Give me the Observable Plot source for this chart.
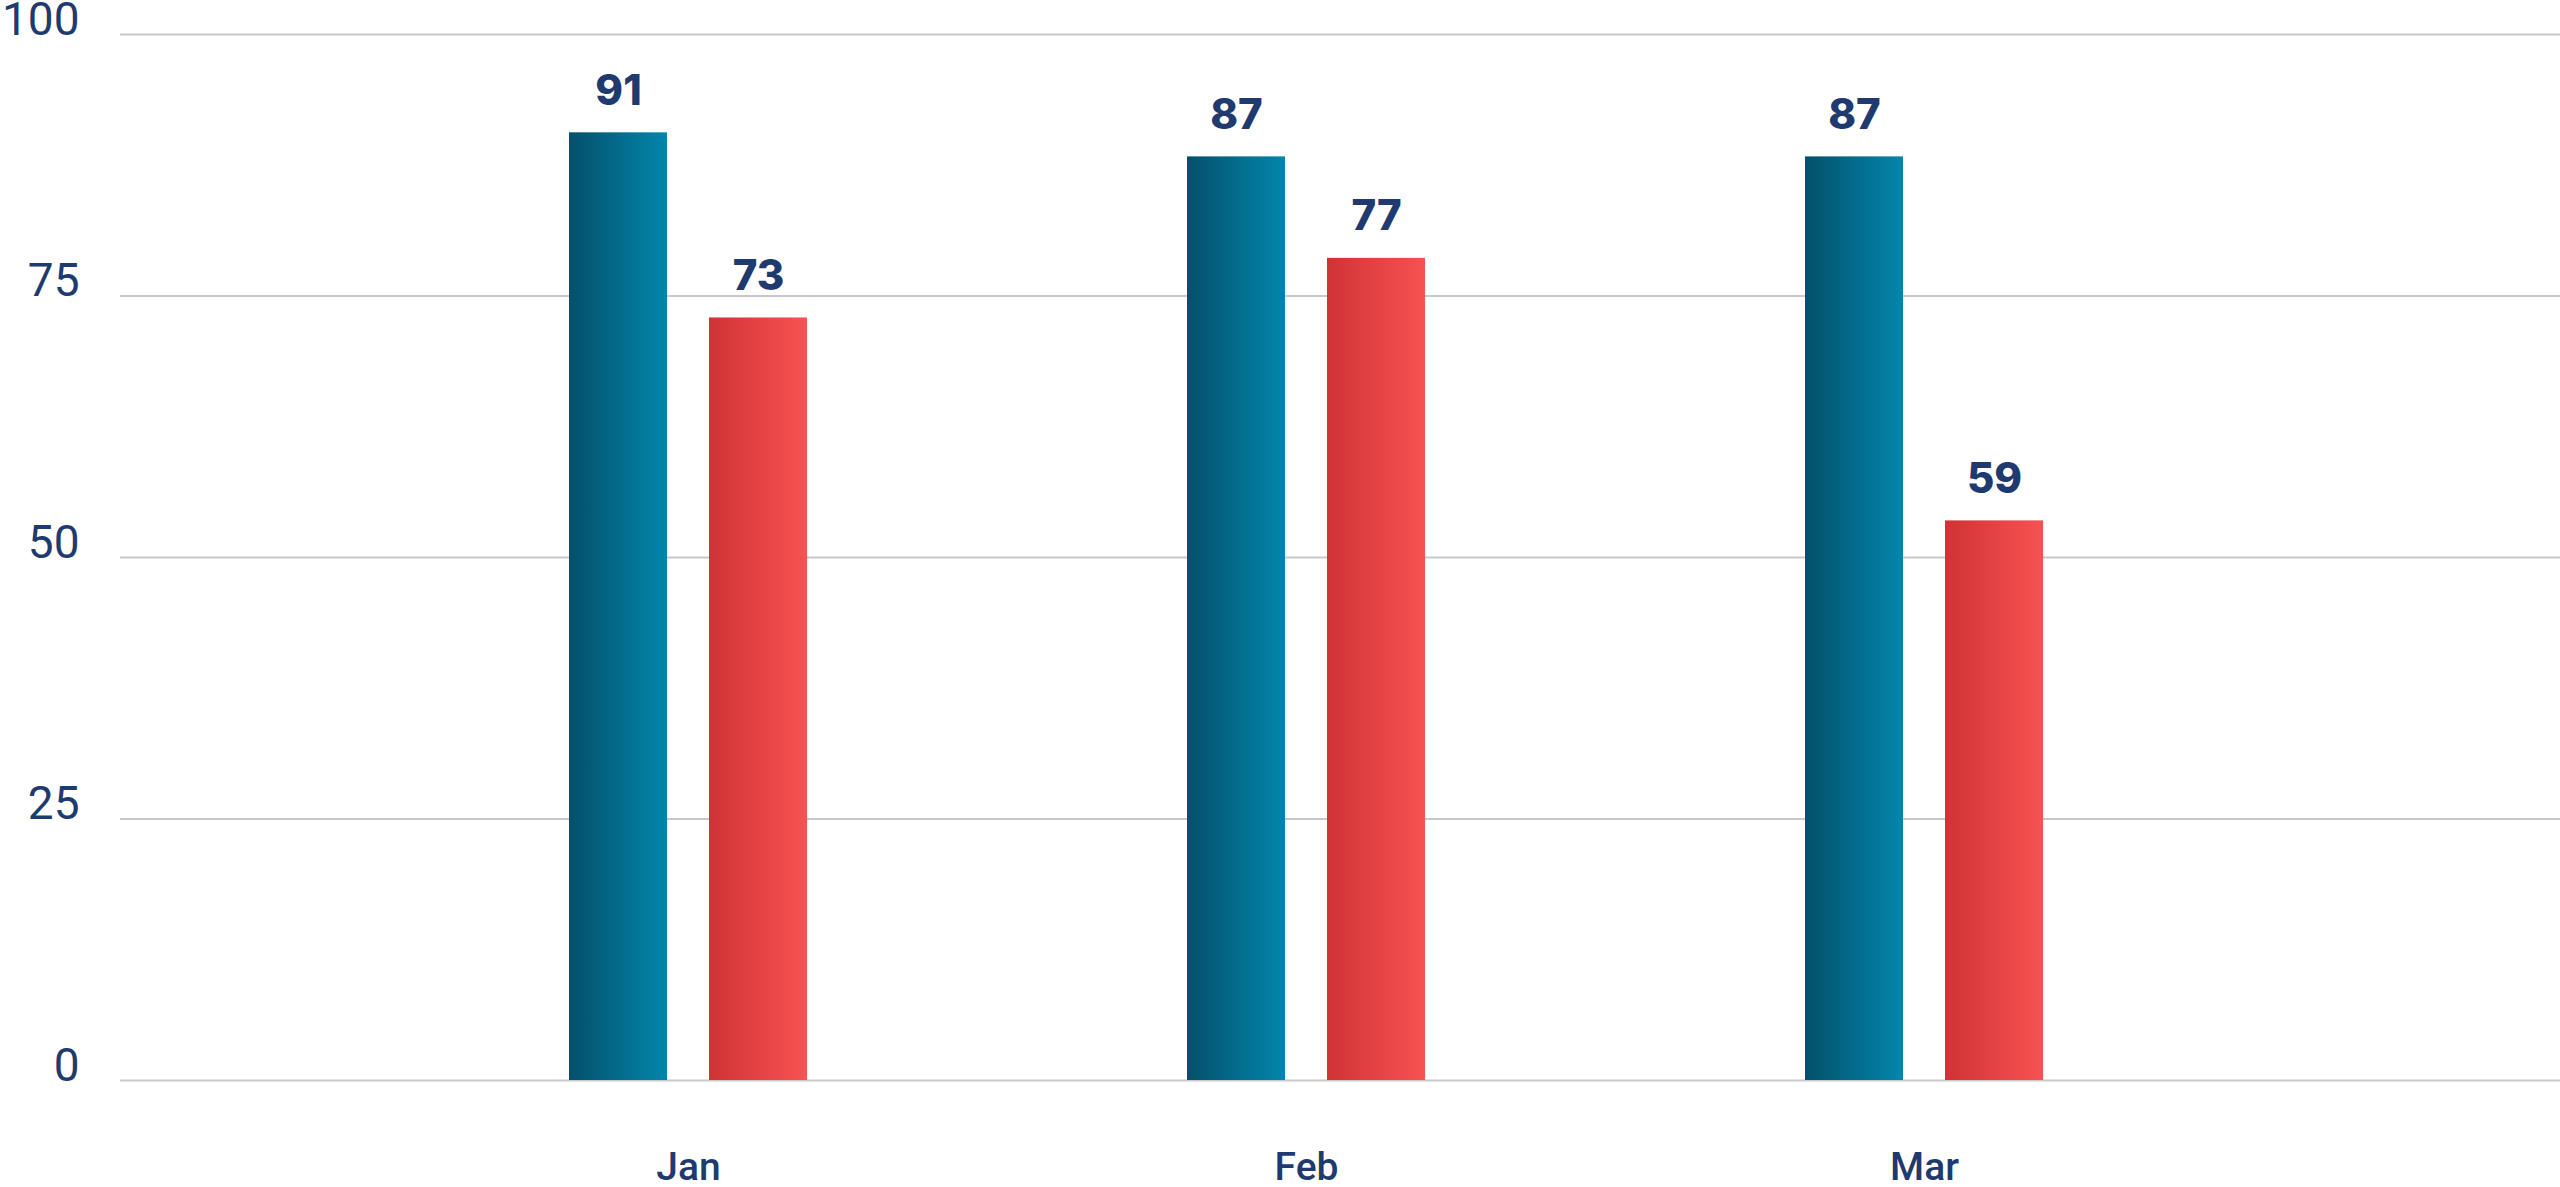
<!DOCTYPE html>
<html>
<head>
<meta charset="utf-8">
<script src="https://cdn.jsdelivr.net/npm/d3@7"></script>
<script src="https://cdn.jsdelivr.net/npm/@observablehq/plot@0.6"></script>
<style>
  html, body { margin: 0; padding: 0; background: #ffffff; }
  #chart svg { display: block; }
</style>
</head>
<body>
<div id="chart"></div>
<script>
const months = ["Jan", "Feb", "Mar"];
const seriesA = [90.6, 88.3, 88.3];
const seriesB = [72.9, 78.6, 53.5];
const labelsA = ["91", "87", "87"];
const labelsB = ["73", "77", "59"];
const yTicks = [0, 25, 50, 75, 100];

const rowsA = months.map((m, i) => ({month: m, value: seriesA[i], label: labelsA[i]}));
const rowsB = months.map((m, i) => ({month: m, value: seriesB[i], label: labelsB[i]}));

const navy = "#1f3a6e";

const chart = Plot.plot({
  width: 2560,
  height: 1187,
  marginLeft: 120,
  marginRight: 0,
  marginTop: 34,
  marginBottom: 107,
  style: {background: "#ffffff", color: navy, fontFamily: "Roboto, sans-serif"},
  x: {type: "band", domain: months, range: [379, 2233], padding: 0, axis: null, label: null},
  y: {domain: [0, 100], axis: null, label: null},
  marks: [
    Plot.ruleY(yTicks, {stroke: "#c8c8c8", strokeWidth: 2}),
    Plot.barY(rowsA, {x: "month", y: "value", fill: "url(#gradBlue)", insetLeft: 190, insetRight: 330}),
    Plot.barY(rowsB, {x: "month", y: "value", fill: "url(#gradRed)", insetLeft: 330, insetRight: 190}),
    Plot.text(rowsA, {x: "month", y: "value", text: "label", dx: -70, dy: -28, lineAnchor: "bottom",
      fill: navy, fontSize: 42, fontWeight: 800, fontFamily: "Inter, sans-serif"}),
    Plot.text(rowsB, {x: "month", y: "value", text: "label", dx: 70, dy: -28, lineAnchor: "bottom",
      fill: navy, fontSize: 42, fontWeight: 800, fontFamily: "Inter, sans-serif"}),
    Plot.text(yTicks, {y: d => d, text: d => String(d), frameAnchor: "left", textAnchor: "end",
      lineAnchor: "bottom", dx: -41, fill: navy, fontSize: 46, fontFamily: "Roboto, sans-serif"}),
    Plot.text(months, {x: d => d, text: d => d, frameAnchor: "bottom", lineAnchor: "bottom", dy: 99,
      fill: navy, fontSize: 39, fontWeight: 500, fontFamily: "Roboto, sans-serif"})
  ]
});

const ns = "http://www.w3.org/2000/svg";
const defs = document.createElementNS(ns, "defs");
function grad(id, c0, c1) {
  const g = document.createElementNS(ns, "linearGradient");
  g.setAttribute("id", id);
  g.setAttribute("x1", "0"); g.setAttribute("x2", "1");
  g.setAttribute("y1", "0"); g.setAttribute("y2", "0");
  [[0, c0], [1, c1]].forEach(([o, c]) => {
    const s = document.createElementNS(ns, "stop");
    s.setAttribute("offset", o);
    s.setAttribute("stop-color", c);
    g.appendChild(s);
  });
  defs.appendChild(g);
}
grad("gradBlue", "#03506a", "#0386ac");
grad("gradRed", "#cf3335", "#f85252");
chart.insertBefore(defs, chart.firstChild);

document.getElementById("chart").appendChild(chart);
</script>
</body>
</html>
